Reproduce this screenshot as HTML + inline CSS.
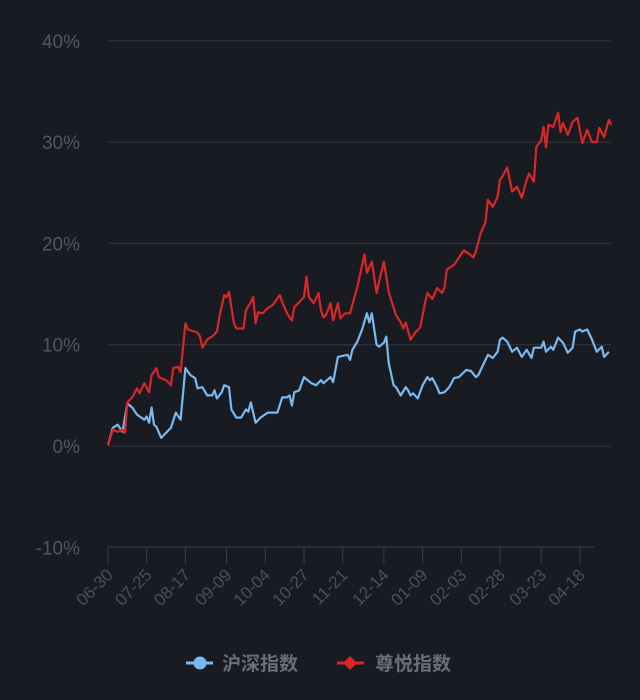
<!DOCTYPE html>
<html><head><meta charset="utf-8"><style>
html,body{margin:0;padding:0;background:#181c22;width:640px;height:700px;overflow:hidden}
svg text{font-family:"Liberation Sans","Noto Sans CJK SC",sans-serif}
</style></head><body>
<svg id="chart" width="640" height="700" xmlns="http://www.w3.org/2000/svg">
<rect x="0" y="0" width="640" height="700" fill="#181c22"/>
<g id="grid"></g>
<g id="yaxis"></g>
<g id="xaxis"></g>
<g id="series"></g>
<g>
  <g>
    <line x1="186" y1="663" x2="213" y2="663" stroke="#7ab8f0" stroke-width="3"/>
    <circle cx="200" cy="663" r="6.5" fill="#7ab8f0"/>
    <text x="222" y="670" font-size="19" font-weight="bold" fill="#6b6e72">沪深指数</text>
  </g>
  <g>
    <line x1="337" y1="663" x2="364" y2="663" stroke="#d92626" stroke-width="3"/>
    <path d="M350 656 L357 663 L350 670 L343 663 Z" fill="#d92626"/>
    <text x="375" y="670" font-size="19" font-weight="bold" fill="#6b6e72">尊悦指数</text>
  </g>
</g>
</svg>
<script>
const yTicks = [-10, 0, 10, 20, 30, 40];
const xTickLabels = ["06-30","07-25","08-17","09-09","10-04","10-27","11-21","12-14","01-09","02-03","02-28","03-23","04-18"];
const xTickDays = [0,16,32,49,65,81,97,114,130,146,162,179,195];
const hsDays = [0,2,4,6,8,10,12,15,16,17,18,19,20,22,24,26,28,30,32,34,36,37,39,41,43,44,45,47,48,50,51,53,55,57,58,59,61,63,66,70,72,74,75,76,77,79,81,84,86,88,89,92,93,95,99,100,101,103,105,107,108,109,111,112,114,115,116,118,119,121,123,124,125,126,128,130,132,133,134,136,137,139,141,143,145,148,150,152,153,155,157,159,161,162,163,165,167,169,171,173,175,176,179,180,181,183,184,186,188,190,192,193,195,196,198,200,202,204,205,207];
const hsValues = [0.1,1.8,2.1,1.4,4.2,3.8,3.1,2.6,2.9,2.3,3.8,2.1,1.9,0.8,1.3,1.8,3.3,2.6,7.7,7.0,6.7,5.7,5.8,5.0,5.0,5.5,4.7,5.3,6.0,5.8,3.6,2.8,2.8,3.6,3.4,4.3,2.3,2.8,3.3,3.3,4.8,4.8,5.0,4.0,5.3,5.5,6.8,6.2,6.0,6.5,6.2,6.8,6.3,8.8,9.0,8.5,9.5,10.3,11.5,13.1,12.2,13.1,10.0,9.8,10.2,10.8,8.2,6.0,5.8,5.0,5.8,5.5,5.0,5.2,4.7,6.0,6.8,6.5,6.7,5.8,5.2,5.3,5.8,6.7,6.8,7.5,7.4,6.8,7.0,8.0,9.0,8.7,9.3,10.5,10.7,10.3,9.3,9.7,8.8,9.5,8.7,9.7,9.7,10.3,9.3,9.8,9.5,10.7,10.2,9.2,9.7,11.3,11.5,11.3,11.5,10.5,9.3,9.8,8.8,9.3];
const zyDays = [0,2,4,6,7,8,10,12,13,15,17,18,20,21,24,26,27,29,30,32,33,37,38,39,41,43,45,46,48,49,50,52,53,56,57,59,60,61,62,64,66,68,71,72,74,75,76,77,79,81,82,83,85,87,88,89,90,92,93,95,96,98,100,103,106,107,109,111,112,114,116,119,121,122,123,125,127,129,131,132,134,136,138,139,140,143,145,147,149,151,152,154,156,157,159,161,162,163,165,166,167,169,171,173,174,176,177,179,180,181,182,184,186,187,188,190,192,194,196,198,200,202,203,205,207,208];
const zyValues = [0.1,1.6,1.4,1.6,1.3,4.3,4.8,5.7,5.2,6.2,5.3,7.0,7.7,6.8,6.5,6.0,7.7,7.8,7.3,12.1,11.5,11.2,10.8,9.7,10.5,10.8,11.3,12.7,14.9,14.7,15.2,12.2,11.6,11.6,13.4,14.2,14.7,12.1,13.2,13.1,13.6,13.9,14.9,14.2,13.1,12.7,12.4,13.7,14.2,14.7,16.7,14.7,14.1,15.1,13.4,12.7,12.9,14.1,12.4,14.1,12.6,13.1,13.1,15.7,18.9,17.1,18.2,15.1,16.2,18.2,15.2,12.9,12.2,11.6,12.2,10.5,11.2,11.7,14.1,15.1,14.5,15.6,15.1,15.6,17.4,17.9,18.6,19.3,19.0,18.6,19.2,21.0,22.1,24.3,23.6,24.6,26.3,26.6,27.5,26.3,25.1,25.6,24.5,26.3,26.9,26.1,29.5,30.2,31.5,29.5,31.7,31.5,32.9,31.0,31.9,30.7,32.0,32.4,29.9,31.2,30.0,30.0,31.4,30.5,32.2,31.7];

const NS = "http://www.w3.org/2000/svg";
const X0 = 108, PX_PER_DAY = 2.42, Y0 = 446, PX_PER_PCT = 10.13, XR = 611;
function xs(d){ return X0 + d * PX_PER_DAY; }
function ys(v){ return Y0 - v * PX_PER_PCT; }
function mk(tag, attrs, parent){ const e = document.createElementNS(NS, tag); for (const k in attrs) e.setAttribute(k, attrs[k]); parent.appendChild(e); return e; }

const grid = document.getElementById('grid'), yaxis = document.getElementById('yaxis');
yTicks.forEach(v => {
  if (v !== -10) {
    const l = mk('line', {x1: X0, x2: XR, y1: ys(v), y2: ys(v), stroke: '#34373c', 'stroke-width': 1}, grid);
    
    
  }
  const t = mk('text', {x: 80, y: ys(v) + 7, 'text-anchor': 'end', 'font-size': 19, fill: '#53575c'}, yaxis);
  t.textContent = v + '%';
  
  
});

const xaxis = document.getElementById('xaxis');
const axl = mk('line', {x1: X0, x2: 594, y1: 547, y2: 547, stroke: '#3c3f44', 'stroke-width': 1}, xaxis);


xTickDays.forEach((d, i) => {
  const x = xs(d);
  const tk = mk('line', {x1: x, x2: x, y1: 547, y2: 564, stroke: '#3c3f44', 'stroke-width': 1}, xaxis);
  
  
  const t = mk('text', {x: x + 6, y: 576, 'text-anchor': 'end', 'font-size': 17, fill: '#4c5055', transform: 'rotate(-45 ' + (x + 6) + ' 576)'}, xaxis);
  t.textContent = xTickLabels[i];
  
  
});

const series = document.getElementById('series');
function drawLine(days, vals, color, name){
  const pts = days.map((d, i) => xs(d).toFixed(1) + ',' + ys(vals[i]).toFixed(1)).join(' ');
  const p = mk('polyline', {points: pts, fill: 'none', stroke: color, 'stroke-width': 2.2, 'stroke-linejoin': 'round'}, series);
  
  
}
drawLine(hsDays, hsValues, '#7ab8f0', 'hs-index-line');
drawLine(zyDays, zyValues, '#d92626', 'zy-index-line');
</script>
</body></html>
